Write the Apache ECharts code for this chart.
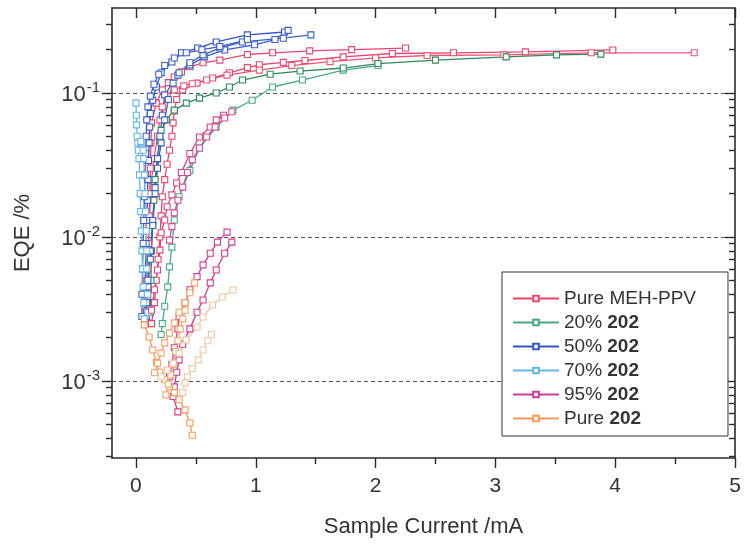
<!DOCTYPE html>
<html><head><meta charset="utf-8">
<script src="https://cdn.jsdelivr.net/npm/echarts@6/dist/echarts.min.js"></script>
<style>html,body{margin:0;padding:0;background:#fff}#c{width:744px;height:553px}</style>
</head><body><div id="c"></div>
<script>
// ---- labels ----
const seriesNames = ['Pure MEH-PPV', '20% 202', '50% 202', '70% 202', '95% 202', 'Pure 202'];
const xTickLabels = [0, 1, 2, 3, 4, 5];
const xMinorTicks = [0.5, 1.5, 2.5, 3.5, 4.5];
const yTickExponents = [-3, -2, -1];
const yMinorMantissas = [2, 3, 4, 5, 6, 7, 8, 9];

// ---- data: [sample current mA, EQE %] ----
// Pure MEH-PPV
const meh1 = [[0.09,0.0026],[0.095,0.004],[0.1,0.006],[0.105,0.009],[0.11,0.014],[0.115,0.02],[0.12,0.03],[0.125,0.045],[0.13,0.062],[0.17,0.085],[0.22,0.105],[0.27,0.118],[0.32,0.129],[0.38,0.14],[0.45,0.152],[0.56,0.162],[0.7,0.169],[0.93,0.185],[1.14,0.19],[1.45,0.196],[1.8,0.2],[2.25,0.205]];
const meh2 = [[0.13,0.0025],[0.155,0.0035],[0.17,0.005],[0.185,0.007],[0.2,0.01],[0.21,0.014],[0.22,0.019],[0.24,0.025],[0.26,0.032],[0.28,0.04],[0.3,0.05],[0.31,0.062],[0.32,0.075],[0.34,0.09],[0.39,0.105],[0.51,0.117],[0.64,0.127],[0.78,0.138],[0.93,0.15],[1.03,0.157],[1.23,0.163],[1.41,0.168],[1.73,0.178],[2.14,0.188],[2.65,0.19],[3.25,0.193],[3.98,0.199]];
const meh3 = [[0.08,0.003],[0.09,0.005],[0.1,0.008],[0.11,0.012],[0.12,0.018],[0.13,0.025],[0.15,0.035],[0.18,0.05],[0.2,0.065],[0.22,0.08],[0.26,0.095],[0.32,0.105],[0.4,0.112],[0.47,0.116],[0.59,0.123],[0.76,0.133],[1.03,0.144],[1.3,0.155],[1.62,0.165],[2.0,0.175],[2.43,0.182],[3.07,0.184],[3.8,0.19],[4.66,0.19]];
// 20% 202
const p20a = [[0.21,0.0021],[0.22,0.0025],[0.24,0.0033],[0.265,0.0045],[0.28,0.0062],[0.3,0.0085],[0.32,0.0131],[0.36,0.019],[0.45,0.029],[0.53,0.0415],[0.67,0.058],[0.81,0.076],[0.97,0.089],[1.14,0.11],[1.39,0.123],[1.73,0.144],[2.02,0.155]];
const p20b = [[0.12,0.003],[0.125,0.005],[0.13,0.008],[0.14,0.012],[0.15,0.018],[0.16,0.025],[0.18,0.035],[0.2,0.047],[0.21,0.055],[0.255,0.065],[0.32,0.076],[0.42,0.085],[0.53,0.092],[0.67,0.1],[0.78,0.11],[0.89,0.123],[1.12,0.135],[1.37,0.142],[1.73,0.149],[2.02,0.16],[2.5,0.169],[3.09,0.178],[3.51,0.184],[3.88,0.186]];
// 50% 202
const p50a = [[0.07,0.0028],[0.075,0.004],[0.08,0.006],[0.085,0.009],[0.09,0.013],[0.095,0.018],[0.1,0.025],[0.105,0.034],[0.11,0.045],[0.115,0.058],[0.12,0.072],[0.14,0.089],[0.17,0.11],[0.21,0.138],[0.3,0.164],[0.38,0.19],[0.515,0.205],[0.67,0.226],[0.93,0.253],[1.24,0.265]];
const p50b = [[0.085,0.0028],[0.09,0.0035],[0.1,0.005],[0.12,0.008],[0.14,0.013],[0.16,0.022],[0.18,0.035],[0.2,0.05],[0.22,0.07],[0.24,0.097],[0.35,0.133],[0.45,0.156],[0.57,0.178],[0.74,0.199],[0.99,0.216],[1.16,0.235],[1.27,0.272]];
const p50c = [[0.09,0.003],[0.1,0.0045],[0.12,0.007],[0.14,0.012],[0.16,0.02],[0.18,0.03],[0.21,0.045],[0.24,0.065],[0.27,0.09],[0.31,0.117],[0.36,0.138],[0.45,0.162],[0.56,0.184],[0.7,0.205],[0.89,0.226],[1.23,0.24],[1.46,0.253]];
const p50d = [[0.05,0.0028],[0.05,0.004],[0.055,0.006],[0.06,0.009],[0.065,0.013],[0.07,0.019],[0.075,0.027],[0.08,0.038],[0.085,0.05],[0.09,0.065],[0.1,0.08],[0.12,0.095],[0.15,0.115],[0.19,0.135],[0.24,0.155],[0.32,0.175],[0.42,0.19],[0.55,0.2],[0.7,0.21],[0.93,0.235]];
// 70% 202
const p70a = [[0.07,0.0027],[0.065,0.0035],[0.06,0.0045],[0.055,0.006],[0.05,0.008],[0.045,0.011],[0.04,0.015],[0.035,0.02],[0.03,0.027],[0.025,0.035],[0.02,0.04],[0.015,0.045],[0.01,0.05],[0.005,0.06],[0.003,0.07],[0.0,0.085]];
const p70b = [[0.1,0.003],[0.095,0.004],[0.09,0.006],[0.09,0.008],[0.085,0.011],[0.08,0.015],[0.075,0.02],[0.07,0.027],[0.065,0.035],[0.06,0.04],[0.05,0.045],[0.04,0.046]];
// 95% 202
const p95a = [[0.28,0.00107],[0.3,0.0013],[0.32,0.0017],[0.35,0.0023],[0.36,0.0028],[0.41,0.0035],[0.45,0.0043],[0.51,0.0053],[0.56,0.0064],[0.62,0.0077],[0.68,0.0092],[0.76,0.0108]];
const p95b = [[0.35,0.00061],[0.31,0.00078],[0.32,0.00091],[0.34,0.00115],[0.36,0.0014],[0.39,0.0018],[0.45,0.0023],[0.51,0.003],[0.56,0.00365],[0.62,0.0048],[0.67,0.0059],[0.74,0.0077],[0.8,0.0092]];
const p95c = [[0.13,0.0031],[0.155,0.0043],[0.18,0.0059],[0.2,0.0081],[0.21,0.0107],[0.24,0.0131],[0.26,0.0162],[0.3,0.0196],[0.34,0.0237],[0.38,0.028],[0.45,0.038],[0.53,0.0495],[0.62,0.058],[0.67,0.065],[0.73,0.07]];
const p95d = [[0.28,0.0095],[0.3,0.0118],[0.32,0.0147],[0.35,0.018],[0.39,0.0222],[0.43,0.028],[0.47,0.0343],[0.53,0.0415],[0.59,0.0495],[0.66,0.058],[0.74,0.067],[0.8,0.074]];
// Pure 202
const p100a = [[0.07,0.00245],[0.11,0.00202],[0.14,0.00164],[0.17,0.00135],[0.2,0.00115],[0.24,0.00102],[0.28,0.00091],[0.32,0.00083],[0.36,0.00074],[0.41,0.00063],[0.45,0.00051],[0.47,0.00042]];
const p100b = [[0.155,0.00114],[0.18,0.00133],[0.21,0.00156],[0.24,0.00184],[0.28,0.00215],[0.32,0.00253],[0.36,0.003],[0.41,0.0035],[0.45,0.0041],[0.49,0.0048]];
const p100c = [[0.25,0.0008],[0.27,0.00095],[0.29,0.0011],[0.31,0.0013],[0.33,0.0016],[0.35,0.0019],[0.37,0.0023],[0.39,0.0027],[0.41,0.0031]];
const p100d = [[0.21,0.00107],[0.26,0.00119],[0.31,0.00133],[0.36,0.00156],[0.42,0.00193],[0.51,0.00237],[0.56,0.00278],[0.64,0.00337],[0.72,0.00383],[0.81,0.00428]];
const p100e = [[0.39,0.00083],[0.41,0.00097],[0.43,0.00107],[0.47,0.00122],[0.52,0.0014],[0.56,0.00164],[0.6,0.0019],[0.63,0.0021]];

// ---- build ----
const FONT = 'Liberation Sans, Arial, sans-serif';
const curves = [
  [seriesNames[0], '#e8466e', meh1], [seriesNames[0], '#e8466e', meh2], [seriesNames[0], '#ee5478', meh3],
  [seriesNames[1], '#4aa88c', p20a], [seriesNames[1], '#2f8a5a', p20b],
  [seriesNames[2], '#3456c4', p50a], [seriesNames[2], '#3a5ccc', p50b], [seriesNames[2], '#3566b8', p50c], [seriesNames[2], '#4060cc', p50d],
  [seriesNames[3], '#62b8e0', p70a], [seriesNames[3], '#70b4e4', p70b],
  [seriesNames[4], '#c8409a', p95a], [seriesNames[4], '#d23a8a', p95b], [seriesNames[4], '#d8467e', p95c], [seriesNames[4], '#d04a9a', p95d],
  [seriesNames[5], '#f59a58', p100a], [seriesNames[5], '#f5a466', p100b], [seriesNames[5], '#f4a870', p100c], [seriesNames[5], '#f2c4a0', p100d], [seriesNames[5], '#f0caa8', p100e]
];
const series = curves.map(([name, color, pts]) => ({
  name, type: 'line', xAxisIndex: 0, yAxisIndex: 0,
  data: pts.map(p => [p[0], Math.log10(p[1])]),
  color,
  symbol: 'rect', symbolSize: 6, showSymbol: true,
  itemStyle: { color: '#fff', borderColor: color, borderWidth: 1.1 },
  lineStyle: { color, width: 1.3 },
  emphasis: { disabled: true }
}));

const yMin = -3.535, yMax = -0.41;
const yMinor = [];
for (let e = -4; e <= 0; e++) yMinorMantissas.forEach(m => { const v = Math.log10(m) + e; if (v > yMin && v < yMax) yMinor.push(v); });
const yMajor = yTickExponents.slice();

const axisLineStyle = { show: true, onZero: false, lineStyle: { color: '#2a2a2a', width: 1.6 } };
const noLine = { show: false, onZero: false };
function xAx(position, ticks, len, inside, showLine, labels) {
  return {
    type: 'value', position, min: -0.2, max: 5,
    axisLine: showLine ? axisLineStyle : noLine,
    axisTick: { show: true, customValues: ticks, length: len, inside, lineStyle: { color: '#2a2a2a', width: 1.4 } },
    axisLabel: labels ? { show: true, customValues: xTickLabels, fontSize: 21, color: '#333', fontFamily: FONT, margin: 18 } : { show: false },
    splitLine: { show: false }
  };
}
function yAx(position, ticks, len, inside, showLine, labels, split) {
  return {
    type: 'value', position, min: yMin, max: yMax,
    axisLine: showLine ? axisLineStyle : noLine,
    axisTick: { show: true, customValues: ticks, length: len, inside, lineStyle: { color: '#2a2a2a', width: 1.4 } },
    axisLabel: labels ? {
      show: true, customValues: yMajor, margin: 12, fontFamily: FONT, color: '#333',
      formatter: v => '{b|10}{s|' + Math.round(v) + '}',
      rich: { b: { fontSize: 22, fontFamily: FONT, color: '#333', lineHeight: 26, verticalAlign: 'bottom' },
              s: { fontSize: 15, fontFamily: FONT, color: '#333', lineHeight: 26, verticalAlign: 'top', padding: [0, 0, 12, 1] } }
    } : { show: false },
    splitLine: split ? { show: true, lineStyle: { color: '#555', type: [4, 3], width: 1 } } : { show: false }
  };
}

const xAxes = [
  Object.assign(xAx('bottom', xTickLabels, 10, false, true, true), {
    name: 'Sample Current /mA', nameLocation: 'middle', nameGap: 58,
    nameTextStyle: { fontSize: 22, color: '#333', fontFamily: FONT }
  }),
  xAx('bottom', xMinorTicks, 6, false, false, false),
  xAx('top', xTickLabels, 10, true, true, false),
  xAx('top', xMinorTicks, 6, true, false, false)
];
const yAxes = [
  Object.assign(yAx('left', yMajor, 10, false, true, true, true), {
    name: 'EQE /%', nameLocation: 'middle', nameGap: 78, nameRotate: 90,
    nameTextStyle: { fontSize: 22, color: '#333', fontFamily: FONT }
  }),
  yAx('left', yMinor, 6, false, false, false, false),
  yAx('right', yMajor, 10, true, true, false, false),
  yAx('right', yMinor, 6, true, false, false, false)
];

const chart = echarts.init(document.getElementById('c'), null, { renderer: 'canvas' });
chart.setOption({
  animation: false,
  backgroundColor: '#fff',
  grid: { left: 112, right: 9, top: 8, bottom: 95, containLabel: false, outerBoundsMode: 'none' },
  xAxis: xAxes,
  yAxis: yAxes,
  legend: {
    data: seriesNames, orient: 'vertical', left: 502, top: 272,
    padding: [17, 32, 8, 10], itemGap: 5, itemWidth: 46, itemHeight: 7,
    borderColor: '#333', borderWidth: 1, backgroundColor: '#fff',
    formatter: name => {
      const i = name.indexOf('202');
      if (i < 0) return '{n|' + name + '}';
      return '{n|' + name.slice(0, i) + '}{b|202}';
    },
    textStyle: {
      fontSize: 19, color: '#333', fontFamily: FONT,
      rich: { n: { fontSize: 19, color: '#333', fontFamily: FONT }, b: { fontSize: 19, fontWeight: 'bold', color: '#333', fontFamily: FONT } }
    }
  },
  series
});
</script></body></html>
